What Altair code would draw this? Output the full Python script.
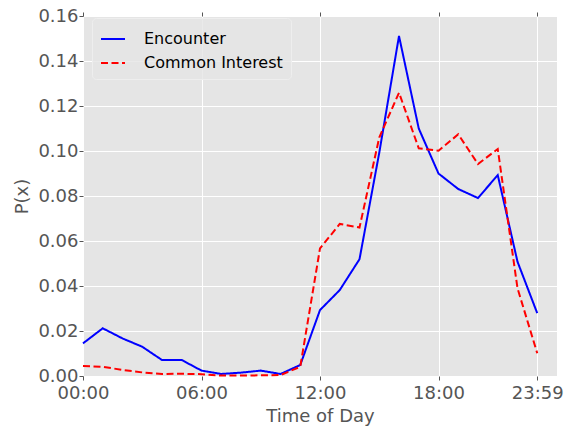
import altair as alt
import pandas as pd

# Hourly probability of activity over a day
hours = list(range(24))
encounter = [0.0145, 0.0212, 0.0167, 0.0130, 0.0071, 0.0071, 0.0024, 0.0009,
             0.0015, 0.0024, 0.0009, 0.0049, 0.0293, 0.0382, 0.0519, 0.0992,
             0.1511, 0.1100, 0.0900, 0.0831, 0.0791, 0.0893, 0.0508, 0.0279]
common_interest = [0.0044, 0.0041, 0.0027, 0.0016, 0.0009, 0.0010, 0.0008, 0.0002,
                   0.0002, 0.0003, 0.0004, 0.0041, 0.0567, 0.0676, 0.0660, 0.1060,
                   0.1259, 0.1012, 0.1001, 0.1074, 0.0942, 0.1009, 0.0390, 0.0101]

series_names = ["Encounter", "Common Interest"]
series_colors = ["#0000ff", "#ff0000"]
series_dashes = [[1, 0], [7, 3.5]]

tick_hours = [0, 6, 12, 18, 23]
tick_labels = ["00:00", "06:00", "12:00", "18:00", "23:59"]
y_ticks = [0.0, 0.02, 0.04, 0.06, 0.08, 0.10, 0.12, 0.14, 0.16]

df = pd.DataFrame({
    "hour": hours * 2,
    "p": encounter + common_interest,
    "series": [series_names[0]] * 24 + [series_names[1]] * 24,
})

label_expr = " : ".join(
    f"datum.value == {h} ? '{lab}'" for h, lab in zip(tick_hours, tick_labels)
) + " : ''"

FONT = "DejaVu Sans"
GREY = "#555555"

x_bottom = alt.X(
    "hour:Q",
    scale=alt.Scale(domain=[0, 24], nice=False, zero=True),
    axis=alt.Axis(
        values=tick_hours, labelExpr=label_expr, title="Time of Day",
        orient="bottom", grid=True, gridColor="white", gridWidth=1,
        domain=False, tickColor=GREY, tickSize=4, labelPadding=4,
        labelFontSize=18, labelColor=GREY, labelFont=FONT,
        titleFontSize=18, titleColor=GREY, titleFont=FONT,
        titleFontWeight="normal", titlePadding=5, labelFlush=False,
    ),
)
x_top = alt.X(
    "hour:Q",
    scale=alt.Scale(domain=[0, 24], nice=False, zero=True),
    axis=alt.Axis(
        values=tick_hours, labels=False, title=None, orient="top",
        grid=False, domain=False, tickColor=GREY, tickSize=4,
    ),
)
y_enc = alt.Y(
    "p:Q",
    scale=alt.Scale(domain=[0, 0.16], nice=False),
    axis=alt.Axis(
        values=y_ticks, format=".2f", title="P(x)",
        grid=True, gridColor="white", gridWidth=1, domain=False,
        tickColor=GREY, tickSize=4, labelPadding=1,
        labelFontSize=18, labelColor=GREY, labelFont=FONT,
        titleFontSize=18, titleColor=GREY, titleFont=FONT,
        titleFontWeight="normal", titlePadding=6,
    ),
)
color_enc = alt.Color(
    "series:N",
    scale=alt.Scale(domain=series_names, range=series_colors),
    legend=alt.Legend(
        title=None, orient="none", legendX=9, legendY=2,
        symbolType="stroke", symbolSize=576, symbolStrokeWidth=2,
        labelFontSize=16, labelFont=FONT, labelColor="black",
        labelOffset=18, rowPadding=3, padding=8,
        fillColor="rgba(229,229,229,0.8)", strokeColor="#eeeeee",
        cornerRadius=4,
    ),
)
dash_enc = alt.StrokeDash(
    "series:N",
    scale=alt.Scale(domain=series_names, range=series_dashes),
    legend=None,
)

base = alt.Chart(df).encode(y=y_enc, color=color_enc, strokeDash=dash_enc)

enc_line = base.transform_filter(
    alt.datum.series == series_names[0]
).mark_line(strokeWidth=2).encode(x=x_bottom)
ci_line = base.transform_filter(
    alt.datum.series == series_names[1]
).mark_line(strokeWidth=2).encode(x=x_top)

chart = alt.layer(enc_line, ci_line).resolve_axis(x="independent").properties(
    width=474, height=360,
    autosize=alt.AutoSizeParams(type="none"),
    padding={"left": 83, "top": 16, "right": 15, "bottom": 52},
    background="white",
).configure_view(fill="#e5e5e5", stroke=None)

chart.save("out.html", embed_options={"renderer": "svg", "actions": False})
